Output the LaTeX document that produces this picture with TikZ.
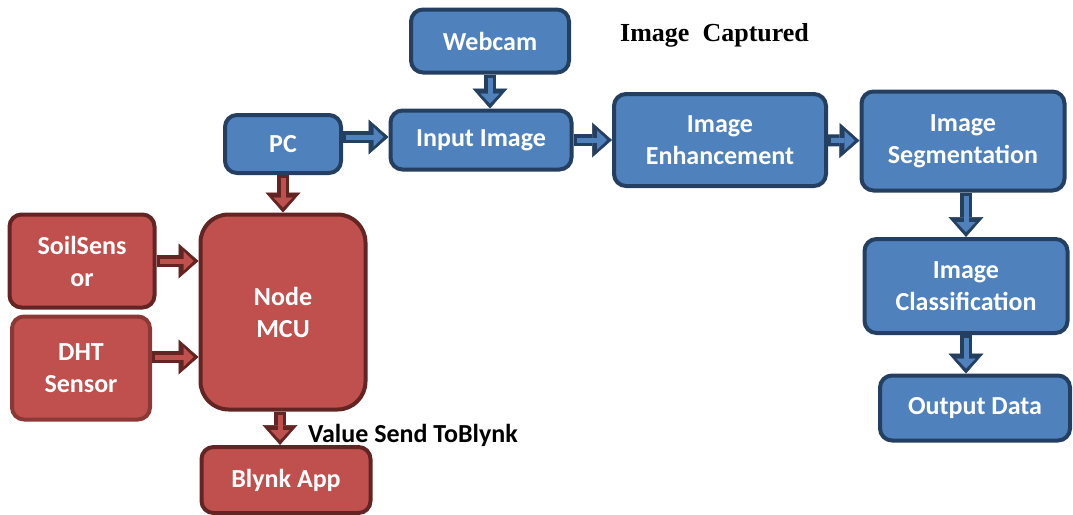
\documentclass[tikz,border=0pt]{standalone}
\usepackage{fontspec}
\setmainfont{Carlito}
\newfontfamily\capfont{Liberation Serif}
\usetikzlibrary{arrows.meta}

\definecolor{bluefill}{HTML}{4F81BD}
\definecolor{blueline}{HTML}{243F60}
\definecolor{redfill}{HTML}{C0504D}
\definecolor{redline}{HTML}{632523}
\definecolor{redmid}{HTML}{8C3836}

\tikzset{
	block/.style={rectangle, rounded corners=12pt, line width=4pt, text=white,
		font=\fontsize{26}{32}\selectfont\bfseries, align=center, inner sep=0pt},
	bluebox/.style={block, draw=blueline, fill=bluefill},
	redbox/.style={block, draw=redline, fill=redfill},
	fatarrow/.style 2 args={draw=#1, line width=12pt,
		-{Triangle[length=20pt, width=35pt, line width=0.5pt]},
		postaction={draw=#2, line width=5pt, shorten <=3pt, shorten >=5pt,
			-{Triangle[length=10pt, width=19pt, line width=0.1pt]}}},
	bluearrow/.style={fatarrow={blueline}{bluefill}},
	redarrow/.style={fatarrow={redline}{redfill}},
	caption/.style={font=\fontsize{26}{30}\selectfont\bfseries, anchor=base west, inner sep=0pt}
}

\begin{document}
\begin{tikzpicture}[x=1pt, y=-1pt]
	\useasboundingbox (0,0) rectangle (1073,514);

	% image processing chain
	\node [bluebox, minimum width=158, minimum height=63] (webcam) at (490,41) {Webcam};
	\node [bluebox, minimum width=181, minimum height=59] (input) at (481,140) {Input Image};
	\node [bluebox, minimum width=116, minimum height=58] (pc) at (283,144) {PC};
	\node [bluebox, minimum width=212, minimum height=92] (enh) at (720,140) {Image\\Enhancement};
	\node [bluebox, minimum width=203, minimum height=99] (seg) at (963,141) {Image\\Segmentation};
	\node [bluebox, minimum width=203, minimum height=94] (cls) at (966,286) {Image\\Classification};
	\node [bluebox, minimum width=190, minimum height=65] (out) at (975,408) {Output Data};

	% sensor side
	\node [redbox, minimum width=165, minimum height=195, rounded corners=28pt] (mcu) at (283,312) {Node\\MCU};
	\node [redbox, minimum width=145, minimum height=93] (soil) at (82,261) {SoilSens\\or};
	\node [redbox, draw=redmid, minimum width=138, minimum height=103] (dht) at (81,368) {DHT\\Sensor};
	\node [redbox, minimum width=169, minimum height=66] (blynk) at (286,480) {Blynk App};

	\node [caption] (send) at (308,442) {Value Send ToBlynk};
	\node [caption, font=\fontsize{26}{30}\selectfont\capfont\bfseries] (capt) at (620,41) {Image\ \ Captured};

	\coordinate (pcout) at ([yshift=7pt]pc.east);
	\coordinate (dhtout) at ([yshift=11pt]dht.east);
	\coordinate (mcuout) at ([xshift=-3pt]mcu.south);

	\draw [bluearrow] (webcam) -- (webcam |- input.north);
	\draw [bluearrow] (pcout) -- (input.west |- pcout);
	\draw [bluearrow] (input) -- (enh);
	\draw [bluearrow] (enh) -- (seg);
	\draw [bluearrow] (seg.south -| cls.north) -- (cls);
	\draw [bluearrow] (cls) -- (cls.south |- out.north);

	\draw [redarrow] (pc) -- (pc |- mcu.north);
	\draw [redarrow] (soil) -- (mcu.west |- soil);
	\draw [redarrow] (dhtout) -- (mcu.west |- dhtout);
	\draw [redarrow] (mcuout) -- (mcuout |- blynk.north);
\end{tikzpicture}
\end{document}
